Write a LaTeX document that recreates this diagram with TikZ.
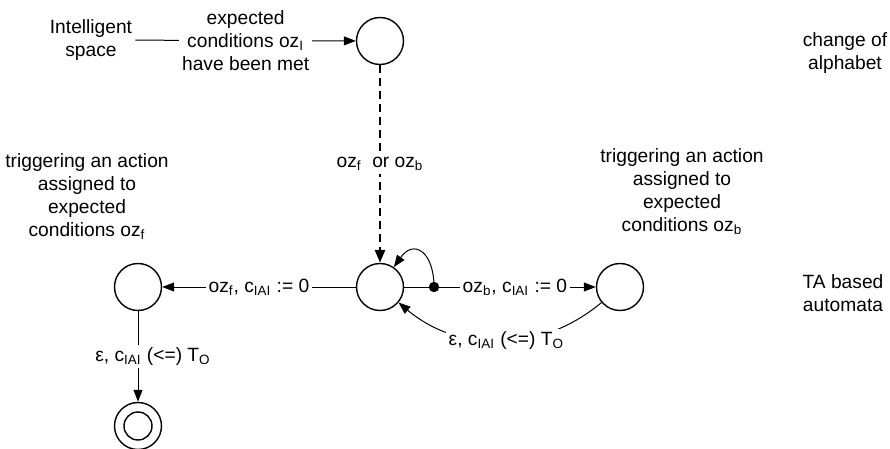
\documentclass[tikz,border=0pt]{standalone}
\usepackage{fontspec}
\setmainfont{Liberation Sans}
\usetikzlibrary{arrows.meta}

\begin{document}
\begin{tikzpicture}[x=0.5pt, y=-0.5pt, font=\fontsize{9.6}{11.5}\selectfont,
            state/.style={draw, circle, line width=0.7pt, minimum size=23.5pt, inner sep=0pt},
            txt/.style={align=center, inner sep=1.5pt},
            lbl/.style={txt, fill=white},
            edge/.style={line width=0.5pt, -{Triangle[length=6pt, width=4.5pt]}}]
            \useasboundingbox (0,0) rectangle (890,449);

            \node[state] (top) at (380,41) {};
            \node[state] (mid) at (380,287) {};
            \node[state] (left) at (138,287) {};
            \node[state] (right) at (620,287) {};
            \node[state] (fin) at (138,426) {};
            \draw[line width=0.7pt] (fin) circle (7pt);
            \coordinate (dot) at (434,287);

            \node[txt] (space) at (91,40) {Intelligent\\space};
            \node[txt] (alphabet) at (845,53) {change of\\alphabet};
            \node[txt] (automata) at (843,293) {TA based\\automata};
            \node[txt] (trigf) at (87,197) {triggering an action\\assigned to\\expected\\conditions oz\textsubscript{f}};
            \node[txt] (trigb) at (682,192) {triggering an action\\assigned to\\expected\\conditions oz\textsubscript{b}};

            \draw[edge] (space) -- node[lbl]{expected\\conditions oz\textsubscript{I}\\have been met} (top);
            \draw[line width=1.4pt, dash pattern=on 4pt off 2.5pt, -{Triangle[length=6.5pt, width=5pt]}] (top) -- node[lbl]{oz\textsubscript{f}\ \ or oz\textsubscript{b}} (mid);

            \draw[edge] (mid) -- node[lbl]{oz\textsubscript{f}, c\textsubscript{IAI} := 0} (left);
            \draw[line width=0.5pt] (mid) -- (dot);
            \fill (dot) circle (2.6pt);
            \draw[edge] (dot) -- node[lbl]{oz\textsubscript{b}, c\textsubscript{IAI} := 0} (right);
            \draw[edge] (dot) to[out=90, in=55, looseness=2] (mid);
            \draw[edge] (right) to[out=-140, in=-40] node[lbl, pos=0.47]{ε, c\textsubscript{IAI} (<=) T\textsubscript{O}} (mid);

            \draw[edge] (left) -- node[lbl, xshift=7.5pt]{ε, c\textsubscript{IAI} (<=) T\textsubscript{O}} (fin);

        \end{tikzpicture}
\end{document}
